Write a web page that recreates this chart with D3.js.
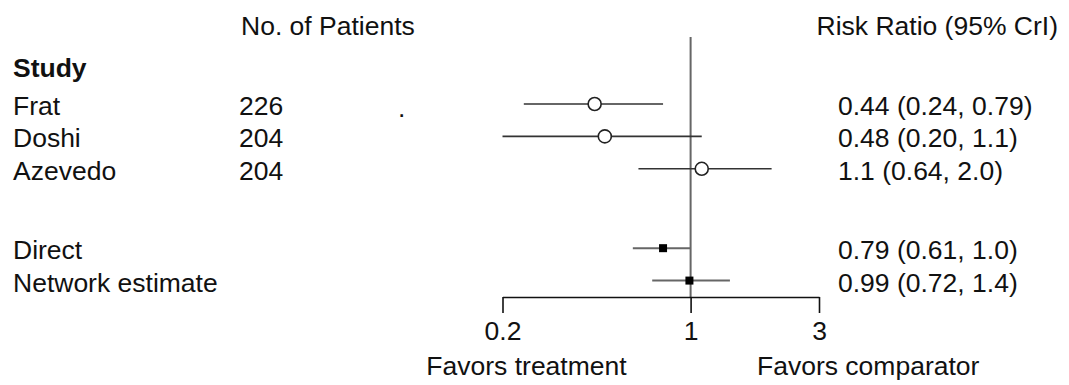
<!DOCTYPE html>
<html>
<head>
<meta charset="utf-8">
<script src="https://cdn.jsdelivr.net/npm/d3@7"></script>
<style>
  html, body { margin: 0; padding: 0; background: #fff; }
  svg text { font-family: "Liberation Sans", Arial, Helvetica, sans-serif; fill: #111; }
</style>
</head>
<body>
<svg id="chart" width="1069" height="385"></svg>
<script>
// Individual trials
const studies = ["Frat", "Doshi", "Azevedo"];
const patients = [226, 204, 204];
const studyEst = [0.44, 0.48, 1.1];
const studyLo = [0.24, 0.20, 0.64];
const studyHi = [0.79, 1.1, 2.0];
const studyRow = [0, 1, 2];

// Pooled estimates
const pooled = ["Direct", "Network estimate"];
const pooledEst = [0.79, 0.99];
const pooledLo = [0.61, 0.72];
const pooledHi = [1.0, 1.4];
const pooledRow = [4.45, 5.45];

// Axis ticks
const tickValues = [0.2, 1, 3];
const tickLabels = ["0.2", "1", "3"];

const svg = d3.select("#chart");
const FS = 26.5;

const x = d3.scaleLog().domain([0.2, 3]).range([502.5, 819]);
const y = d3.scaleLinear().domain([0, 1]).range([104, 136.4]);
const fmt = d3.format(".2r");
const ciText = (e, l, h) => `${fmt(e)} (${fmt(l)}, ${fmt(h)})`;

const axisY = 297;

// Column headers
svg.append("text").attr("x", 241).attr("y", 35).attr("font-size", FS).text("No. of Patients");
svg.append("text").attr("x", 1058).attr("y", 35).attr("font-size", FS)
  .attr("text-anchor", "end").text("Risk Ratio (95% CrI)");
svg.append("text").attr("x", 13).attr("y", 77).attr("font-size", FS)
  .attr("font-weight", "bold").text("Study");

// Line of no effect
svg.append("line")
  .attr("x1", x(1)).attr("x2", x(1))
  .attr("y1", 37).attr("y2", axisY)
  .attr("stroke", "#666").attr("stroke-width", 2);

// Trial rows
const trials = studies.map((s, i) => ({
  name: s, n: patients[i], est: studyEst[i], lo: studyLo[i], hi: studyHi[i], row: studyRow[i]
}));

const tg = svg.append("g");
tg.selectAll("text.name").data(trials).join("text")
  .attr("class", "name").attr("x", 13).attr("y", d => y(d.row) + 11)
  .attr("font-size", FS).text(d => d.name);
tg.selectAll("text.n").data(trials).join("text")
  .attr("class", "n").attr("x", 239).attr("y", d => y(d.row) + 11)
  .attr("font-size", FS).text(d => d.n);
tg.selectAll("text.ci").data(trials).join("text")
  .attr("class", "ci").attr("x", 838).attr("y", d => y(d.row) + 11)
  .attr("font-size", FS).text(d => ciText(d.est, d.lo, d.hi));
tg.selectAll("line").data(trials).join("line")
  .attr("x1", d => x(d.lo)).attr("x2", d => x(d.hi))
  .attr("y1", d => y(d.row)).attr("y2", d => y(d.row))
  .attr("stroke", "#333").attr("stroke-width", 1.6);
tg.selectAll("circle").data(trials).join("circle")
  .attr("cx", d => x(d.est)).attr("cy", d => y(d.row)).attr("r", 6.5)
  .attr("fill", "#fff").attr("stroke", "#222").attr("stroke-width", 1.6);

// stray dot in the trial area
svg.append("text").attr("x", 398).attr("y", 117).attr("font-size", FS).text(".");

// Pooled rows
const pools = pooled.map((s, i) => ({
  name: s, est: pooledEst[i], lo: pooledLo[i], hi: pooledHi[i], row: pooledRow[i]
}));
const pg = svg.append("g");
pg.selectAll("text.name").data(pools).join("text")
  .attr("class", "name").attr("x", 13).attr("y", d => y(d.row) + 11)
  .attr("font-size", FS).text(d => d.name);
pg.selectAll("text.ci").data(pools).join("text")
  .attr("class", "ci").attr("x", 838).attr("y", d => y(d.row) + 11)
  .attr("font-size", FS).text(d => ciText(d.est, d.lo, d.hi));
pg.selectAll("line").data(pools).join("line")
  .attr("x1", d => x(d.lo)).attr("x2", d => x(d.hi))
  .attr("y1", d => y(d.row)).attr("y2", d => y(d.row))
  .attr("stroke", "#666").attr("stroke-width", 2);
pg.selectAll("rect").data(pools).join("rect")
  .attr("x", d => x(d.est) - 4).attr("y", d => y(d.row) - 4)
  .attr("width", 8).attr("height", 8).attr("fill", "#000");

// Bottom axis
const axis = d3.axisBottom(x)
  .tickValues(tickValues)
  .tickFormat((d, i) => tickLabels[i])
  .tickSize(16).tickSizeOuter(0).tickPadding(8.5);
const ag = svg.append("g").attr("transform", `translate(0,${axisY})`).call(axis);
ag.select(".domain").attr("stroke", "#111").attr("stroke-width", 1.6);
ag.selectAll(".tick line").attr("stroke", "#111").attr("stroke-width", 1.6);
ag.selectAll(".tick text")
  .attr("font-size", FS)
  .attr("font-family", "Liberation Sans, Arial, sans-serif")
  .attr("fill", "#111");

// Direction labels
svg.append("text").attr("x", 526.5).attr("y", 375).attr("font-size", FS)
  .attr("text-anchor", "middle").text("Favors treatment");
svg.append("text").attr("x", 757).attr("y", 375).attr("font-size", FS)
  .text("Favors comparator");
</script>
</body>
</html>
